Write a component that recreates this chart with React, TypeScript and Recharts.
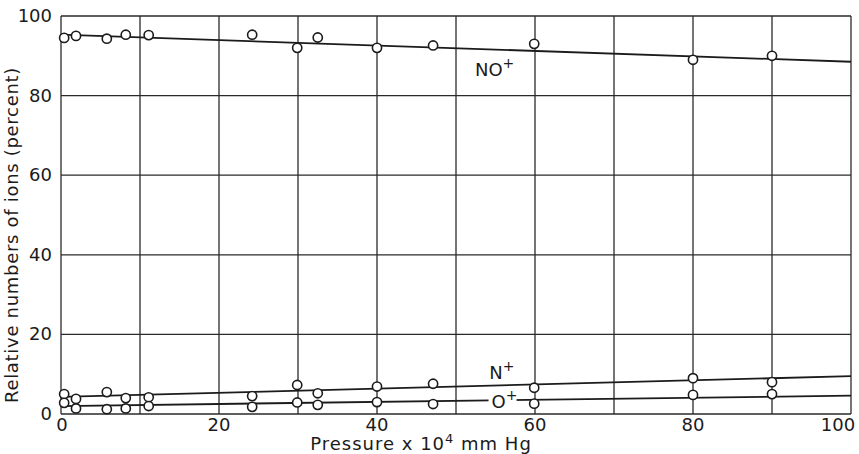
import {
  ComposedChart,
  Line,
  Scatter,
  XAxis,
  YAxis,
  CartesianGrid,
  ReferenceDot,
  Label,
} from 'recharts';

// measured points (pressure x 10^4 mm Hg)
const pressure = [0.4, 1.9, 5.8, 8.2, 11.1, 24.2, 29.9, 32.5, 40, 47.1, 59.9, 80, 90];
const noPlus = [94.5, 95, 94.3, 95.3, 95.2, 95.3, 92, 94.6, 92, 92.6, 93, 89, 90];
const nPlus = [5, 3.8, 5.5, 4, 4.2, 4.5, 7.3, 5.2, 6.9, 7.6, 6.6, 9, 8];
const oPlus = [2.8, 1.4, 1.2, 1.4, 2, 1.8, 2.9, 2.3, 3, 2.5, 2.6, 4.8, 5];

// fitted straight lines
const fitX = [0, 100];
const noFit = [95.3, 88.5];
const nFit = [4.3, 9.5];
const oFit = [2.0, 4.6];

const xTicks = [0, 20, 40, 60, 80, 100];
const yTicks = [0, 20, 40, 60, 80, 100];
const xGrid = [0, 10, 20, 30, 40, 50, 60, 70, 80, 90, 100];

const FONT = '"DejaVu Sans", sans-serif';
const INK = '#1b1b1b';

const pts = (ys: number[]) => pressure.map((x, i) => ({ x, y: ys[i] }));
const fit = (ys: number[]) => fitX.map((x, i) => ({ x, y: ys[i] }));

const Ring = (p: any) => (
  <circle cx={p.cx} cy={p.cy} r={4.6} fill="#fff" stroke={INK} strokeWidth={1.6} />
);

const ionLabel = (base: string, bg: boolean) => (p: any) => (
  <g>
    {bg && <rect x={p.cx - 3} y={p.cy - 16} width={base.length * 12 + 16} height={20} fill="#fff" />}
    <text x={p.cx} y={p.cy} fontFamily={FONT} fontSize={18} fill={INK}>
      {base}
      <tspan dy={-8} fontSize={14}>+</tspan>
    </text>
  </g>
);

const XTick = (p: any) => {
  const v = p.payload.value;
  const dx = v === 100 ? -9 : v === 0 ? 1 : 0;
  return (
    <text x={p.x + dx} y={p.y + 9} textAnchor="middle" fontFamily={FONT} fontSize={18} fill={INK}>
      {v}
    </text>
  );
};

const YTick = (p: any) => (
  <text x={p.x - 1} y={p.y + 6} textAnchor="end" fontFamily={FONT} fontSize={18} fill={INK}>
    {p.payload.value}
  </text>
);

export default function App() {
  return (
    <div style={{ position: 'absolute', left: 0, top: 0, background: '#fff' }}>
      <ComposedChart width={859} height={454} margin={{ top: 16, right: 8, bottom: 0, left: 0 }}>
        <CartesianGrid
          stroke="#2a2a2a"
          strokeWidth={1.3}
          horizontalValues={yTicks}
          verticalValues={xGrid}
        />
        <XAxis
          type="number"
          dataKey="x"
          domain={[0, 100]}
          ticks={xTicks}
          axisLine={false}
          tickLine={false}
          tick={<XTick />}
          height={40}
        >
          <Label
            content={() => (
              <text
                x={421}
                y={450}
                textAnchor="middle"
                fontFamily={FONT}
                fontSize={18}
                letterSpacing={1}
                fill={INK}
              >
                Pressure  x 10
                <tspan dy={-7} fontSize={13}>4</tspan>
                <tspan dy={7}> mm Hg</tspan>
              </text>
            )}
          />
        </XAxis>
        <YAxis
          type="number"
          dataKey="y"
          domain={[0, 100]}
          ticks={yTicks}
          axisLine={false}
          tickLine={false}
          tick={<YTick />}
          width={61}
        >
          <Label
            content={() => (
              <text
                x={18}
                y={235}
                transform="rotate(-90 18 235)"
                textAnchor="middle"
                fontFamily={FONT}
                fontSize={18}
                letterSpacing={0.7}
                fill={INK}
              >
                Relative numbers of ions  (percent)
              </text>
            )}
          />
        </YAxis>

        <Line data={fit(noFit)} dataKey="y" stroke={INK} strokeWidth={1.8} dot={false} isAnimationActive={false} />
        <Line data={fit(nFit)} dataKey="y" stroke={INK} strokeWidth={1.8} dot={false} isAnimationActive={false} />
        <Line data={fit(oFit)} dataKey="y" stroke={INK} strokeWidth={1.8} dot={false} isAnimationActive={false} />

        <ReferenceDot x={52.4} y={85} r={0} shape={ionLabel('NO', false)} />
        <ReferenceDot x={54.2} y={8.7} r={0} shape={ionLabel('N', false)} />
        <ReferenceDot x={54.5} y={1.6} r={0} shape={ionLabel('O', true)} />

        <Scatter data={pts(noPlus)} shape={Ring} isAnimationActive={false} />
        <Scatter data={pts(nPlus)} shape={Ring} isAnimationActive={false} />
        <Scatter data={pts(oPlus)} shape={Ring} isAnimationActive={false} />
      </ComposedChart>
    </div>
  );
}
